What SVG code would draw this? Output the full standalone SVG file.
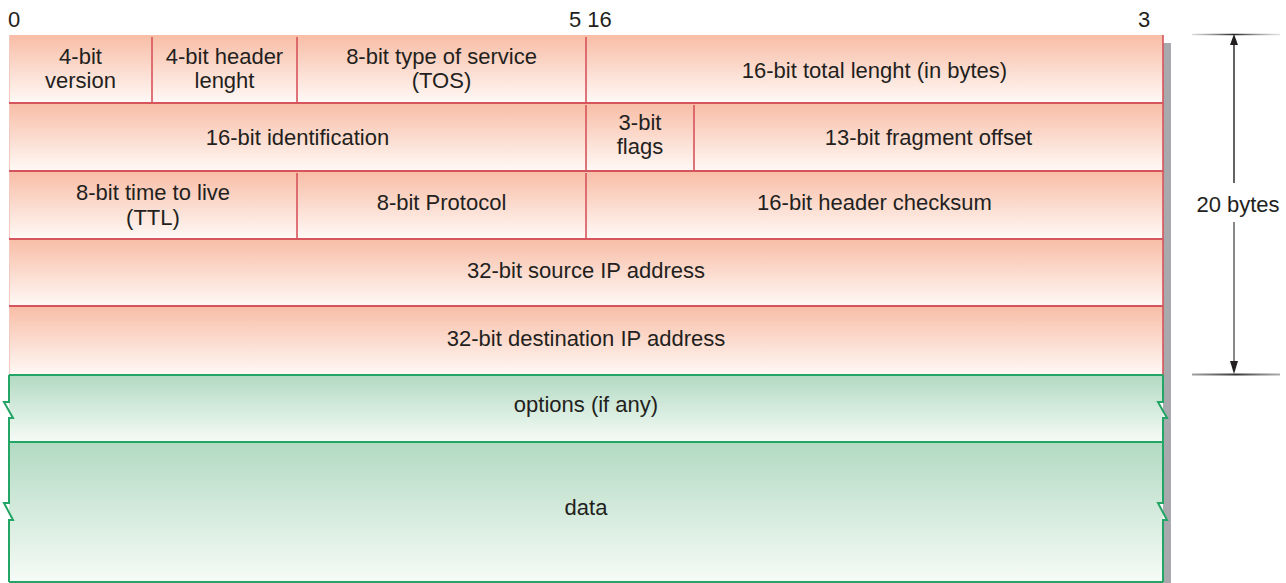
<svg xmlns="http://www.w3.org/2000/svg" width="1286" height="583" viewBox="0 0 1286 583">
  <defs>
    <linearGradient id="pinkFill" x1="0" y1="0" x2="0" y2="1">
      <stop offset="0" stop-color="#f8bda6"/>
      <stop offset="1" stop-color="#fff9f6"/>
    </linearGradient>
    <linearGradient id="greenFill" x1="0" y1="0" x2="0" y2="1">
      <stop offset="0" stop-color="#b2dac2"/>
      <stop offset="1" stop-color="#f6fbf7"/>
    </linearGradient>
    <linearGradient id="tickTop" x1="1192" y1="0" x2="1280" y2="0" gradientUnits="userSpaceOnUse">
      <stop offset="0" stop-color="#888" stop-opacity="0.3"/>
      <stop offset="0.48" stop-color="#222"/>
      <stop offset="1" stop-color="#bbb" stop-opacity="0.4"/>
    </linearGradient>
    <linearGradient id="tickBottom" x1="1192" y1="0" x2="1280" y2="0" gradientUnits="userSpaceOnUse">
      <stop offset="0" stop-color="#666" stop-opacity="0.6"/>
      <stop offset="0.5" stop-color="#333"/>
      <stop offset="1" stop-color="#777" stop-opacity="0.6"/>
    </linearGradient>
    <style>
      .lbl { font-family: "Liberation Sans", Arial, Helvetica, sans-serif; font-size: 22px; fill: #231f20; text-anchor: middle; }
      .bit { font-family: "Liberation Sans", Arial, Helvetica, sans-serif; font-size: 22px; fill: #231f20; }
      .row { fill: url(#pinkFill); }
      .grow { fill: url(#greenFill); }
      .sep { stroke: #d6545c; stroke-width: 2; fill: none; }
      .div { stroke: #d6545c; stroke-width: 1.6; fill: none; }
      .gline { stroke: #22a565; stroke-width: 2; fill: none; }
      .head { fill: #231f20; }
    </style>
  </defs>

  <rect width="1286" height="583" fill="#ffffff"/>

  <!-- bit position labels -->
  <g id="bit-scale">
    <text class="bit" x="8" y="27">0</text>
    <text class="bit" x="569" y="27">5 16</text>
    <text class="bit" x="1138" y="27">3</text>
  </g>

  <!-- drop shadow on the right side of the datagram -->
  <rect x="1163" y="43" width="8" height="540" fill="#a7a9ac"/>

  <!-- header rows -->
  <g id="row1">
    <rect class="row" x="9" y="35" width="1154" height="68"/>
    <g id="version">
      <text class="lbl" x="80.5" y="64">4-bit</text>
      <text class="lbl" x="80.5" y="88">version</text>
    </g>
    <g id="header-length">
      <line class="div" x1="152" y1="37" x2="152" y2="103"/>
      <text class="lbl" x="224.5" y="64">4-bit header</text>
      <text class="lbl" x="224.5" y="88">lenght</text>
    </g>
    <g id="tos">
      <line class="div" x1="297" y1="37" x2="297" y2="103"/>
      <text class="lbl" x="441.5" y="64">8-bit type of service</text>
      <text class="lbl" x="441.5" y="88">(TOS)</text>
    </g>
    <g id="total-length">
      <line class="div" x1="586" y1="37" x2="586" y2="103"/>
      <text class="lbl" x="874.5" y="78">16-bit total lenght (in bytes)</text>
    </g>
  </g>

  <g id="row2">
    <rect class="row" x="9" y="103" width="1154" height="68"/>
    <g id="identification">
      <text class="lbl" x="297.5" y="145">16-bit identification</text>
    </g>
    <g id="flags">
      <line class="div" x1="586" y1="105" x2="586" y2="171"/>
      <text class="lbl" x="640" y="130">3-bit</text>
      <text class="lbl" x="640" y="154">flags</text>
    </g>
    <g id="fragment-offset">
      <line class="div" x1="694" y1="105" x2="694" y2="171"/>
      <text class="lbl" x="928.5" y="145">13-bit fragment offset</text>
    </g>
  </g>

  <g id="row3">
    <rect class="row" x="9" y="171" width="1154" height="68"/>
    <g id="ttl">
      <text class="lbl" x="153" y="200">8-bit time to live</text>
      <text class="lbl" x="153" y="225">(TTL)</text>
    </g>
    <g id="protocol">
      <line class="div" x1="297" y1="173" x2="297" y2="239"/>
      <text class="lbl" x="441.5" y="210">8-bit Protocol</text>
    </g>
    <g id="checksum">
      <line class="div" x1="586" y1="173" x2="586" y2="239"/>
      <text class="lbl" x="874.5" y="210">16-bit header checksum</text>
    </g>
  </g>

  <g id="source-ip">
    <rect class="row" x="9" y="239" width="1154" height="67"/>
    <text class="lbl" x="586" y="278">32-bit source IP address</text>
  </g>

  <g id="destination-ip">
    <rect class="row" x="9" y="306" width="1154" height="69"/>
    <text class="lbl" x="586" y="346">32-bit destination IP address</text>
  </g>

  <!-- header outline: faint left edge, red right edge and row separators -->
  <g id="header-frame">
    <line x1="9.5" y1="35" x2="9.5" y2="375" stroke="#f2c9bd" stroke-width="1"/>
    <line class="div" x1="1163" y1="35" x2="1163" y2="375"/>
    <line class="sep" x1="9" y1="103" x2="1163" y2="103"/>
    <line class="sep" x1="9" y1="171" x2="1163" y2="171"/>
    <line class="sep" x1="9" y1="239" x2="1163" y2="239"/>
    <line class="sep" x1="9" y1="306" x2="1163" y2="306"/>
  </g>

  <!-- variable-length part with break marks on both sides -->
  <g id="options">
    <rect class="grow" x="9" y="375" width="1154" height="67"/>
    <text class="lbl" x="586" y="412">options (if any)</text>
  </g>

  <g id="data">
    <rect class="grow" x="9" y="442" width="1154" height="140"/>
    <text class="lbl" x="586" y="515">data</text>
  </g>

  <g id="break-marks" fill="#ffffff" stroke="none">
    <polygon points="4,402 9,402 9,418 13,418"/>
    <polygon points="4,503 9,503 9,520 13,520"/>
    <polygon points="1158,402 1163,402 1163,418 1167,418"/>
    <polygon points="1158,503 1163,503 1163,520 1167,520"/>
  </g>

  <g id="payload-frame">
    <path class="gline" d="M9,375 H1163"/>
    <path class="gline" d="M9,442 H1163"/>
    <path class="gline" d="M9,582 H1163"/>
    <path class="gline" d="M9,375 V402 H4 L13,418 H9 V503 H4 L13,520 H9 V582"/>
    <path class="gline" d="M1163,375 V402 H1158 L1167,418 H1163 V503 H1158 L1167,520 H1163 V582"/>
  </g>

  <!-- header size dimension -->
  <g id="connectors">
    <line x1="1192" y1="34.5" x2="1280" y2="34.5" stroke="url(#tickTop)" stroke-width="1.5"/>
    <line x1="1192" y1="374.5" x2="1280" y2="374.5" stroke="url(#tickBottom)" stroke-width="1.8"/>
    <line x1="1234" y1="44" x2="1234" y2="183" stroke="#231f20" stroke-width="1.4"/>
    <line x1="1234" y1="222" x2="1234" y2="363" stroke="#555" stroke-width="1.4"/>
    <polygon class="head" points="1234,34 1238,45 1230,45"/>
    <polygon class="head" points="1234,374 1238,361 1230,361"/>
  </g>
  <g id="size-label">
    <text class="lbl" x="1238" y="212">20 bytes</text>
  </g>
</svg>
